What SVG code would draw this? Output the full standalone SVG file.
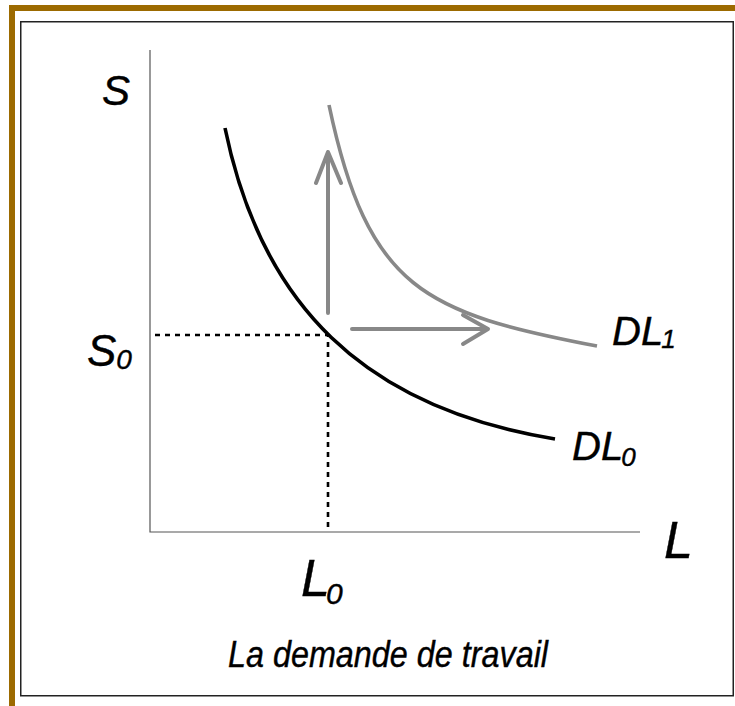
<svg xmlns="http://www.w3.org/2000/svg" width="735" height="706" viewBox="0 0 735 706">
<style>
.lbl{font-family:"Liberation Sans",Arial,sans-serif;font-style:italic;fill:#000;stroke:#000;stroke-width:0.4}
.axis{stroke:#555;stroke-width:1.2;fill:none}
.dash{stroke:#000;stroke-width:2.6;stroke-dasharray:5 5;fill:none}
.gray{stroke:#888;stroke-width:4;fill:none;stroke-linecap:round;stroke-linejoin:round}
</style>
<rect x="0" y="0" width="735" height="706" fill="#fff"/>
<g id="frame">
<rect x="9" y="5" width="726" height="6" fill="#9c6a00"/>
<rect x="9" y="5" width="6" height="701" fill="#9c6a00"/>
<rect x="20.75" y="21.75" width="712.5" height="674" fill="none" stroke="#222" stroke-width="1.5"/>
</g>
<g id="axes">
<path class="axis" d="M150,50 V532 H640"/>
<text class="lbl" x="102" y="105" font-size="42">S</text>
<text class="lbl" x="664" y="558" font-size="52">L</text>
</g>
<g id="guides">
<path class="dash" d="M155,335 H328 V532"/>
<text class="lbl" x="87" y="366" font-size="44">S<tspan font-size="28" dy="3">0</tspan></text>
<text class="lbl" x="301" y="596" font-size="52">L<tspan font-size="30" dy="8" dx="-4">0</tspan></text>
</g>
<g id="DL0">
<path d="M225,128 C261,303.5 362.5,407.5 555,439" stroke="#000" stroke-width="3.6" fill="none"/>
<text class="lbl" x="572" y="460" font-size="40">DL<tspan font-size="26" dy="6" dx="-2">0</tspan></text>
</g>
<g id="DL1">
<path d="M329,105 C368,290 425,313 597,346" stroke="#888" stroke-width="3.6" fill="none"/>
<text class="lbl" x="612" y="345" font-size="40">DL<tspan font-size="26" dy="3" dx="-2">1</tspan></text>
</g>
<g id="connectors">
<path class="gray" d="M328,313 V152 M316,183 L328,152 L341,183"/>
<path class="gray" d="M352,329 H488 M463,315 L488,329 L463,344"/>
</g>
<g id="caption">
<text class="lbl" x="228" y="667" font-size="37" textLength="320" lengthAdjust="spacingAndGlyphs">La demande de travail</text>
</g>
</svg>
